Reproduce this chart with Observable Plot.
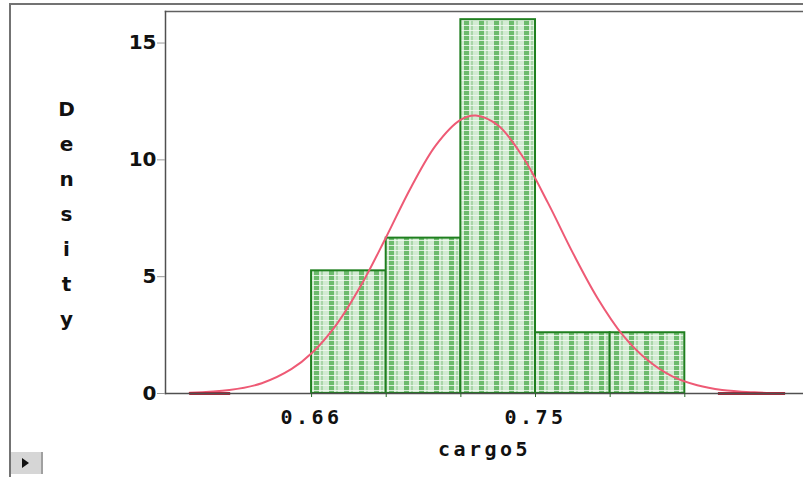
<!DOCTYPE html>
<html><head><meta charset="utf-8">
<script src="https://cdn.jsdelivr.net/npm/d3@7"></script>
<script src="https://cdn.jsdelivr.net/npm/@observablehq/plot@0.6"></script>
<style>
body{margin:0;background:#fff;}
#wrap{position:relative;width:803px;height:477px;overflow:hidden;background:#fff;}
#wrap svg{position:absolute;left:0;top:0;}
#frame{position:absolute;left:9px;top:3px;width:820px;height:500px;border-left:2px solid #737373;border-top:2px solid #737373;}
#btn{position:absolute;left:11px;top:452px;width:30px;height:22px;background:#d6d6d6;border-right:2px solid #a0a0a0;}
#btn:after{content:"";position:absolute;left:11px;top:6px;border-left:7px solid #111;border-top:5px solid transparent;border-bottom:5px solid transparent;}
</style></head>
<body><div id="wrap"></div>
<script>
// Histogram bins (cargo5) and densities
const binStart = [0.66, 0.69, 0.72, 0.75, 0.78];
const binEnd   = [0.69, 0.72, 0.75, 0.78, 0.81];
const density  = [5.25, 6.65, 16.0, 2.6, 2.6];

// Density curve
const curveX = [0.611, 0.627, 0.640, 0.652, 0.660, 0.670, 0.680, 0.690, 0.700, 0.710, 0.720, 0.726, 0.735, 0.745, 0.755, 0.765, 0.775, 0.785, 0.795, 0.805, 0.815, 0.825, 0.838, 0.850];
const curveY = [0.03, 0.15, 0.44, 1.05, 1.72, 2.95, 4.65, 6.7, 8.83, 10.63, 11.72, 11.9, 11.47, 10.11, 8.16, 6.02, 4.07, 2.51, 1.43, 0.73, 0.35, 0.15, 0.05, 0.01];

// Curve tails lying on the baseline
const tailStart = [0.611, 0.8235];
const tailEnd   = [0.6275, 0.8505];

// Axis ticks
const yTicks = [0, 5, 10, 15];
const xTickEdges = [0.66, 0.69, 0.72, 0.75, 0.78, 0.81];
const xTickLabels = [0.66, 0.75];

const bars = binStart.map((d, i) => ({x1: d, x2: binEnd[i], y: density[i]}));
const curve = curveX.map((d, i) => ({x: d, y: curveY[i]}));
const tails = tailStart.map((d, i) => ({x1: d, x2: tailEnd[i]}));

const chart = Plot.plot({
  width: 803,
  height: 477,
  marginLeft: 165,
  marginRight: 0,
  marginTop: 11,
  marginBottom: 84,
  style: {background: "transparent", overflow: "visible"},
  x: {domain: [0.6013, 0.8577]},
  y: {domain: [0, 16.35]},
  marks: [
    Plot.rectY(bars, {x1: "x1", x2: "x2", y: "y", fill: "url(#barpat)", stroke: "#1f7f1f", strokeWidth: 2, inset: 0}),
    Plot.line(curve, {x: "x", y: "y", stroke: "#ee5a75", strokeWidth: 2, curve: "catmull-rom"}),
    Plot.ruleY(tails, {x1: "x1", x2: "x2", y: 0, stroke: "#b3263a", strokeWidth: 3}),
    Plot.frame({anchor: "top", stroke: "#606060", strokeWidth: 1.5}),
    Plot.frame({anchor: "left", stroke: "#505050", strokeWidth: 1.5}),
    Plot.frame({anchor: "bottom", stroke: "#505050", strokeWidth: 1.5}),
    Plot.axisY({ticks: yTicks, tickSize: 8, tickPadding: 1, stroke: "#999", fill: "#111", fontSize: 20, fontWeight: "bold", fontFamily: "DejaVu Sans", label: null}),
    Plot.axisX({ticks: xTickEdges, tickSize: 4, tickPadding: 12, stroke: "#2a6a2a",
      tickFormat: d => xTickLabels.some(v => Math.abs(v - d) < 1e-9) ? d.toFixed(2) : "",
      fill: "#111", fontSize: 20, fontWeight: "bold", fontFamily: "DejaVu Sans Mono", label: null}),
    Plot.text(["cargo5"], {frameAnchor: "bottom", dy: 62, fontSize: 20, fontWeight: "bold", fontFamily: "DejaVu Sans Mono", fill: "#111"}),
    Plot.text(["Density".split("").join("\n")], {frameAnchor: "left", dx: -99, dy: 7.5, lineHeight: 1.75, fontSize: 20, fontWeight: "bold", fontFamily: "DejaVu Sans", fill: "#111", textAnchor: "middle"})
  ]
});

// Pattern for the bar fill
const ns = "http://www.w3.org/2000/svg";
const defs = document.createElementNS(ns, "defs");
defs.innerHTML = `<pattern id="barpat" patternUnits="userSpaceOnUse" x="311" y="0" width="15" height="5">
  <rect width="15" height="5" fill="#d3ebd3"/>
  <rect x="3" width="5" height="5" fill="#6cbb6c"/>
  <rect x="10" width="2" height="5" fill="#a9d6a9"/>
  <rect y="0" width="15" height="1" fill="#f4fbf4" fill-opacity="0.8"/>
</pattern>`;
chart.insertBefore(defs, chart.firstChild);

// Letter spacing for monospace labels
chart.querySelectorAll("text").forEach(t => {
  if ((t.getAttribute("font-family") || "").includes("Mono") || (t.closest("g") && (t.closest("g").getAttribute("font-family") || "").includes("Mono"))) {
    t.setAttribute("letter-spacing", "3.5");
  }
});

const wrap = document.getElementById("wrap");
wrap.appendChild(chart);
const frame = document.createElement("div"); frame.id = "frame"; wrap.appendChild(frame);
const btn = document.createElement("div"); btn.id = "btn"; wrap.appendChild(btn);
</script>
</body></html>
